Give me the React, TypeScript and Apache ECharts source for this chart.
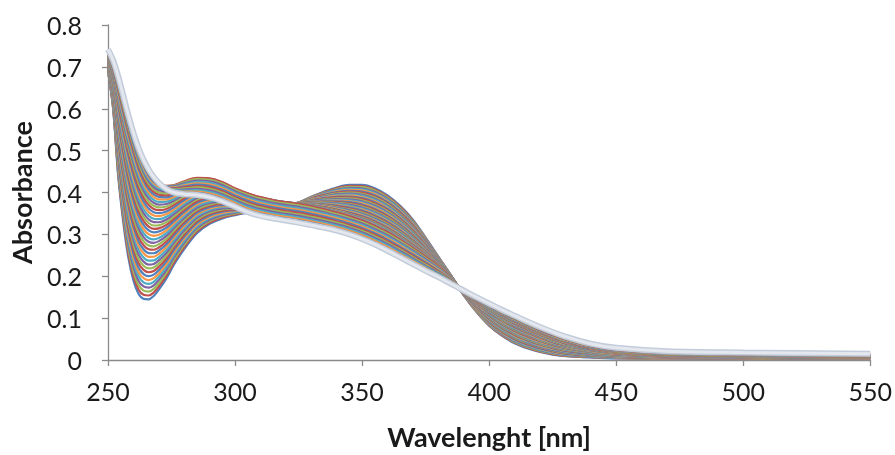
import React, { useEffect, useRef } from "react";
import * as echarts from "echarts";

// Wavelength grid (nm)
const wavelengths = [250, 252, 254, 256, 258, 260, 262, 264, 266, 268, 270, 273, 276, 280, 285, 290, 295, 300, 305, 310, 315, 320, 325, 330, 335, 340, 345, 350, 355, 360, 365, 370, 375, 380, 385, 390, 395, 400, 405, 410, 415, 420, 425, 430, 440, 450, 470, 500, 550];

// First recorded spectrum (dark blue, bottom at 265 nm)
const startSpectrum = [0.69, 0.6, 0.44, 0.33, 0.245, 0.19, 0.158, 0.146, 0.145, 0.153, 0.168, 0.195, 0.228, 0.265, 0.303, 0.325, 0.338, 0.346, 0.352, 0.357, 0.362, 0.368, 0.376, 0.39, 0.402, 0.412, 0.418, 0.418, 0.41, 0.393, 0.368, 0.335, 0.292, 0.247, 0.202, 0.155, 0.115, 0.082, 0.058, 0.04, 0.028, 0.019, 0.013, 0.009, 0.006, 0.004, 0.003, 0.003, 0.003];

// Spectrum with the 285 nm hump (top of the bundle at 285 nm)
const humpSpectrum = [0.732, 0.708, 0.672, 0.63, 0.583, 0.54, 0.5, 0.468, 0.445, 0.43, 0.421, 0.416, 0.418, 0.427, 0.435, 0.434, 0.425, 0.41, 0.398, 0.389, 0.382, 0.377, 0.373, 0.367, 0.36, 0.352, 0.343, 0.333, 0.32, 0.305, 0.287, 0.267, 0.246, 0.224, 0.196, 0.163, 0.141, 0.124, 0.108, 0.093, 0.079, 0.066, 0.054, 0.044, 0.029, 0.02, 0.013, 0.01, 0.008];

// Final spectrum (thick light grey line drawn on top)
const finalSpectrum = [0.742, 0.716, 0.678, 0.632, 0.585, 0.543, 0.507, 0.478, 0.455, 0.437, 0.423, 0.408, 0.4, 0.396, 0.394, 0.389, 0.379, 0.366, 0.353, 0.344, 0.338, 0.333, 0.328, 0.322, 0.316, 0.309, 0.3, 0.289, 0.276, 0.261, 0.245, 0.229, 0.213, 0.198, 0.182, 0.166, 0.15, 0.135, 0.12, 0.106, 0.092, 0.079, 0.067, 0.056, 0.039, 0.029, 0.021, 0.018, 0.015];

const phase1Fractions = [0, 0.03, 0.061, 0.092, 0.122, 0.153, 0.184, 0.215, 0.246, 0.276, 0.307, 0.338, 0.368, 0.398, 0.428, 0.458, 0.488, 0.518, 0.548, 0.578, 0.607, 0.636, 0.665, 0.694, 0.722, 0.75, 0.777, 0.803, 0.828, 0.852, 0.875, 0.897, 0.918, 0.938, 0.956, 0.972, 0.986, 1.0];
const phase2Fractions = [0.08, 0.16, 0.24, 0.32, 0.4, 0.48, 0.56, 0.64, 0.72, 0.8, 0.88, 0.94];

const xTicks = [250, 300, 350, 400, 450, 500, 550];
const yTicks = [0, 0.1, 0.2, 0.3, 0.4, 0.5, 0.6, 0.7, 0.8];

const palette = ["#4F81BD", "#C0504D", "#9BBB59", "#8064A2", "#4BACC6", "#F79646"];

const FONT = "Lato";

function mix(a: number[], b: number[], f: number) {
  return wavelengths.map((w, i) => [w, a[i] + (b[i] - a[i]) * f]);
}

export default function App() {
  const ref = useRef<HTMLDivElement>(null);
  useEffect(() => {
    if (!ref.current) return;
    const chart = echarts.init(ref.current, undefined, { renderer: "svg" });
    const series: any[] = [];
    let idx = 0;
    const lineSeries = (data: number[][], color: string, width: number) => ({
      type: "line",
      data,
      smooth: 0.35,
      showSymbol: false,
      symbol: "none",
      silent: true,
      lineStyle: { color, width },
    });
    phase1Fractions.forEach((f) => {
      series.push(lineSeries(mix(startSpectrum, humpSpectrum, f), palette[idx % palette.length], 2.2));
      idx++;
    });
    phase2Fractions.forEach((f) => {
      series.push(lineSeries(mix(humpSpectrum, finalSpectrum, f), palette[idx % palette.length], 2.2));
      idx++;
    });
    const finalData = wavelengths.map((w, i) => [w, finalSpectrum[i]]);
    series.push(lineSeries(finalData, "#C3CCDA", 6));
    series.push(lineSeries(finalData, "#E4E8EE", 3));

    chart.setOption({
      animation: false,
      grid: { left: 107, right: 24, top: 25, bottom: 93, containLabel: false },
      xAxis: {
        type: "value",
        min: xTicks[0],
        max: xTicks[xTicks.length - 1],
        interval: 50,
        name: "Wavelenght [nm]",
        nameLocation: "middle",
        nameGap: 63,
        nameTextStyle: { fontFamily: FONT, fontSize: 27, fontWeight: "bold", color: "#1a1a1a" },
        axisLine: { lineStyle: { color: "#8a8a8a", width: 1.3 } },
        axisTick: { show: true, length: 6, lineStyle: { color: "#8a8a8a", width: 1.3 } },
        axisLabel: { fontFamily: FONT, fontSize: 25, color: "#1a1a1a", margin: 18 },
        splitLine: { show: false },
      },
      yAxis: {
        type: "value",
        min: yTicks[0],
        max: yTicks[yTicks.length - 1],
        interval: 0.1,
        name: "Absorbance",
        nameLocation: "middle",
        nameGap: 73,
        nameRotate: 90,
        nameTextStyle: { fontFamily: FONT, fontSize: 27, fontWeight: "bold", color: "#1a1a1a" },
        axisLine: { show: true, lineStyle: { color: "#8a8a8a", width: 1.3 } },
        axisTick: { show: true, length: 6, lineStyle: { color: "#8a8a8a", width: 1.3 } },
        axisLabel: {
          fontFamily: FONT,
          fontSize: 25,
          color: "#1a1a1a",
          margin: 26,
          formatter: (v: number) => (v === 0 ? "0" : v.toFixed(1)),
        },
        splitLine: { show: false },
      },
      series,
    });
    return () => chart.dispose();
  }, []);
  return <div ref={ref} style={{ position: "fixed", left: 0, top: 0, width: 895, height: 455 }} />;
}
